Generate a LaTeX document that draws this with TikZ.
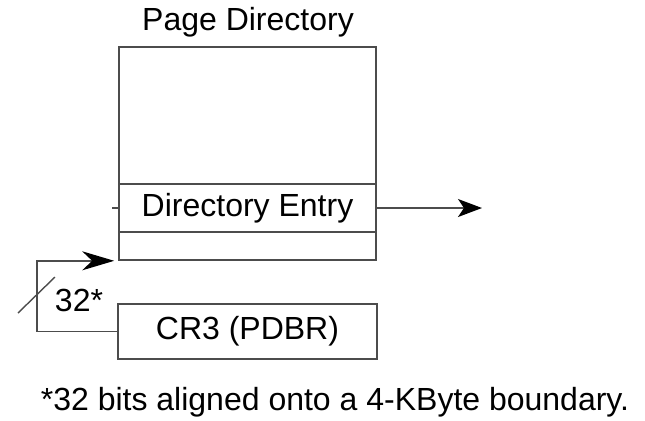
\documentclass[tikz,border=0pt]{standalone}
\usepackage{fontspec}
\setmainfont{Liberation Sans}
\usetikzlibrary{arrows.meta, positioning}

\begin{document}
\begin{tikzpicture}[x=0.5pt, y=-0.5pt,
    box/.style={draw=black!70, line width=0.8pt, inner sep=0pt},
    wire/.style={draw=black!70, line width=0.7pt},
    lbl/.style={font=\fontsize{16}{19}\selectfont}]
    \useasboundingbox (0,0) rectangle (645,420);

    % Page directory table
    \node[lbl] (title) at (248,22) {Page Directory};
    \node[box, minimum width=128.5pt, minimum height=68.5pt] (pdtop) at (247.5,115.5) {};
    \node[box, lbl, minimum width=128.5pt, minimum height=24pt] (entry) at (247.5,208) {Directory Entry};
    \node[box, minimum width=128.5pt, minimum height=14pt] (slot) at (247.5,246) {};

    % Control register
    \node[box, lbl, minimum width=129.5pt, minimum height=27.5pt] (cr3) at (247.5,331.5) {CR3 (PDBR)};

    % Entry points onwards
    \coordinate (out) at (482,208);
    \coordinate (tick) at (112,208);
    \draw[wire, -{Stealth[length=12pt, width=9pt, inset=3pt, black]}] (entry.east) -- (out);
    \draw[wire] (entry.west) -- (tick);

    % CR3 holds the base of the directory
    \coordinate (loop) at (37,0);
    \draw[wire, shorten >=2pt, -{Stealth[length=16pt, width=9.5pt, inset=5pt, black]}]
        (cr3.west) -- (cr3.west -| loop) |- (slot.south west);
    \draw[wire] (18,313) -- (55,277);
    \node[lbl] (bits) at (79,300) {32*};

    % Footnote
    \node[lbl] (note) at (335,402) {*32 bits aligned onto a 4-KByte boundary.};
\end{tikzpicture}
\end{document}
